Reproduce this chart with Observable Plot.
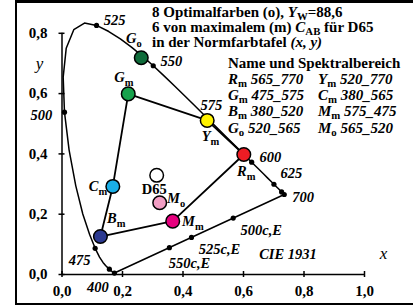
<!DOCTYPE html>
<html><head><meta charset="utf-8">
<script src="https://cdn.jsdelivr.net/npm/d3@7"></script>
<script src="https://cdn.jsdelivr.net/npm/@observablehq/plot@0.6"></script>
<style>
html,body{margin:0;padding:0;background:#fff;overflow:hidden}
#wrap{position:relative;width:413px;height:308px;overflow:hidden;background:#fff}
#frame{position:absolute;left:15px;top:0px;width:420px;height:299.5px;border-left:2px solid #000;border-top:3px solid #000;border-bottom:2.5px solid #000;pointer-events:none}
.txt{position:absolute;font-family:'Liberation Serif',serif;font-weight:bold;font-size:15px;white-space:nowrap;color:#000}
.txt sub{font-size:0.72em;vertical-align:-0.28em;line-height:0;font-style:normal}
.txt i{font-style:italic}
.col{display:inline-block;width:90px}
</style>
</head><body>
<div id="wrap">
  <div id="chart"></div>
  <div id="title" class="txt" style="left:152px;top:5.4px;line-height:15px"></div>
  <div id="legend" class="txt" style="left:228px;top:54.5px;line-height:16.3px"></div>
  <div id="frame"></div>
</div>
<script>
// ---- data ----
const wavelengths = [400,405,410,415,420,425,430,435,440,445,450,455,460,465,470,475,480,485,490,495,500,505,510,515,520,525,530,535,540,545,550,555,560,565,570,575,580,585,590,595,600,605,610,615,620,625,630,635,640,645,650,655,660,665,670,675,680,685,690,695,700];
const locusX = [0.1733,0.1730,0.1726,0.1721,0.1714,0.1703,0.1689,0.1669,0.1644,0.1611,0.1566,0.1510,0.1440,0.1355,0.1241,0.1096,0.0913,0.0687,0.0454,0.0235,0.0082,0.0039,0.0139,0.0389,0.0743,0.1142,0.1547,0.1929,0.2296,0.2658,0.3016,0.3373,0.3731,0.4087,0.4441,0.4788,0.5125,0.5448,0.5752,0.6029,0.6270,0.6482,0.6658,0.6801,0.6915,0.7006,0.7079,0.7140,0.7190,0.7230,0.7260,0.7283,0.7300,0.7311,0.7320,0.7327,0.7334,0.7340,0.7344,0.7346,0.7347];
const locusY = [0.0048,0.0048,0.0048,0.0048,0.0051,0.0058,0.0069,0.0086,0.0109,0.0138,0.0177,0.0227,0.0297,0.0399,0.0578,0.0868,0.1327,0.2007,0.2950,0.4127,0.5384,0.6548,0.7502,0.8120,0.8338,0.8262,0.8059,0.7816,0.7543,0.7243,0.6923,0.6589,0.6245,0.5896,0.5547,0.5202,0.4866,0.4544,0.4242,0.3965,0.3725,0.3514,0.3340,0.3197,0.3083,0.2993,0.2920,0.2859,0.2809,0.2770,0.2740,0.2717,0.2700,0.2689,0.2680,0.2673,0.2666,0.2660,0.2656,0.2654,0.2653];
const markedWavelengths = [400,450,475,500,525,550,575,600,625,650,700];
const labeledWavelengths = [400,475,500,525,550,575,600,625,700];
const complementNames = ["500c,E","525c,E","550c,E"];
const complementX = [0.566,0.428,0.355];
const complementY = [0.187,0.123,0.089];
const pointNames = ["Go","Gm","Ym","Rm","Cm","Bm","Mm","Mo","D65"];
const pointX = [0.262,0.219,0.480,0.601,0.168,0.127,0.366,0.323,0.313];
const pointY = [0.719,0.599,0.511,0.398,0.292,0.126,0.177,0.238,0.329];
const hexagonOrder = ["Ym","Gm","Cm","Bm","Mm","Rm","Ym"];
const xTicks = [0,0.2,0.4,0.6,0.8,1.0];
const yTicks = [0,0.2,0.4,0.6,0.8];
const legendNames = ["Rm","Ym","Gm","Cm","Bm","Mm","Go","Mo"];
const legendRanges = ["565_770","520_770","475_575","380_565","380_520","575_475","520_565","565_520"];
const titleLines = ["8 Optimalfarben (o), <i>Y</i><sub>W</sub>=88,6","6 von maximalem (m) <i>C</i><sub>AB</sub> für D65","in der Normfarbtafel <i>(x, y)</i>"];
const legendHeader = "Name und Spektralbereich";

// ---- styles ----
const pointColors = {Go:"#0f6b3a",Gm:"#17a24c",Ym:"#fff200",Rm:"#ee1c24",Cm:"#1aaee6",Bm:"#2b3990",Mm:"#e6007e",Mo:"#f29ec4",D65:"#ffffff"};
// label placement relative to the point: [dx, dy, anchor]
const pointPlace = {Go:[-7.4,-19,"middle"],Gm:[-4.4,-16.3,"middle"],Ym:[3.3,16.3,"middle"],Rm:[2.5,16.5,"middle"],Cm:[-5.6,0,"end"],Bm:[6.7,-18.3,"start"],Mm:[9.4,0.3,"start"],Mo:[7.4,-4,"start"],D65:[-2.5,14.3,"middle"]};
const wlPlace = {400:[-5.6,14.6,"end"],475:[-4.7,11.7,"end"],500:[-12.3,3,"end"],525:[7.3,-4.9,"start"],550:[7.3,-4.6,"start"],575:[-6.3,-12.5,"start"],600:[7.8,-4.5,"start"],625:[6.6,-11,"start"],700:[7.9,2.7,"start"]};
const compPlace = {"500c,E":[7.3,12.4,"start"],"525c,E":[7.3,12.1,"start"],"550c,E":[-0.6,15.6,"start"]};

// ---- build tables ----
const locus = wavelengths.map((w,i)=>({w,x:locusX[i],y:locusY[i]}));
const locusClosed = locus.concat([locus[0]]);
const byW = Object.fromEntries(locus.map(d=>[d.w,d]));
const points = pointNames.map((n,i)=>({name:n,x:pointX[i],y:pointY[i],color:pointColors[n]}));
const byName = Object.fromEntries(points.map(d=>[d.name,d]));
const hexagon = hexagonOrder.map(n=>byName[n]);
const complements = complementNames.map((n,i)=>({name:n,x:complementX[i],y:complementY[i]}));
const fmt = d=>d.toFixed(1).replace(".",",");
const subLabel = n => n==="D65" ? n : n[0]+"|"+n.slice(1);

const marks = [
  Plot.ruleY([0],{strokeWidth:1.5}),
  Plot.ruleX([0],{strokeWidth:1.5}),
  Plot.axisX({ticks:xTicks,tickSize:6,dy:-3,text:null,label:null,strokeWidth:1.5}),
  Plot.axisY({ticks:yTicks,tickSize:6,dx:3,text:null,label:null,strokeWidth:1.5}),
  Plot.axisX({ticks:xTicks,tickSize:0,tickPadding:11,tickFormat:fmt,fontSize:15,label:null}),
  Plot.axisY({ticks:yTicks,tickSize:0,tickPadding:14.5,tickFormat:fmt,fontSize:15,label:null}),
  Plot.line(locusClosed,{x:"x",y:"y",stroke:"#000",strokeWidth:1.5}),
  Plot.line(hexagon,{x:"x",y:"y",stroke:"#000",strokeWidth:1.8}),
  Plot.dot(markedWavelengths.map(w=>byW[w]),{x:"x",y:"y",r:2.6,fill:"#000"}),
  Plot.dot(complements,{x:"x",y:"y",r:2.6,fill:"#000"}),
  Plot.dot(points,{x:"x",y:"y",r:6.8,fill:"color",stroke:"#000",strokeWidth:1.5})
];
for (const p of points) {
  const [dx,dy,a] = pointPlace[p.name];
  marks.push(Plot.text([p],{x:"x",y:"y",text:d=>subLabel(d.name),dx,dy,textAnchor:a,fontSize:14.5,fontStyle:p.name==="D65"?"normal":"italic"}));
}
for (const w of labeledWavelengths) {
  const [dx,dy,a] = wlPlace[w];
  marks.push(Plot.text([byW[w]],{x:"x",y:"y",text:d=>String(d.w),dx,dy,textAnchor:a,fontSize:14.5,fontStyle:"italic"}));
}
for (const c of complements) {
  const [dx,dy,a] = compPlace[c.name];
  marks.push(Plot.text([c],{x:"x",y:"y",text:"name",dx,dy,textAnchor:a,fontSize:14.5,fontStyle:"italic"}));
}
marks.push(Plot.text(["CIE 1931"],{frameAnchor:"bottom-right",dx:-76.5,dy:-16,textAnchor:"middle",fontSize:14.5,fontStyle:"italic"}));
marks.push(Plot.text(["x"],{frameAnchor:"bottom-right",dx:19,dy:-16,textAnchor:"middle",fontSize:17,fontStyle:"italic",fontWeight:"normal"}));
marks.push(Plot.text(["y"],{frameAnchor:"top-left",dx:-22.5,dy:24,textAnchor:"middle",fontSize:17,fontStyle:"italic",fontWeight:"normal"}));

const chart = Plot.plot({
  width:413,height:308,
  marginLeft:61.5,marginRight:49,marginTop:32.8,marginBottom:34,
  x:{domain:[0,1],axis:null},
  y:{domain:[0,0.8],axis:null},
  color:{type:"identity"},
  style:"font-family:'Liberation Serif',serif;font-weight:bold;font-size:15px;background:transparent;overflow:visible",
  marks
});
// subscripts in point labels
chart.querySelectorAll("text").forEach(t=>{
  const s = t.textContent;
  if (s.includes("|")) {
    const [a,b] = s.split("|");
    t.textContent = "";
    const ns = "http://www.w3.org/2000/svg";
    const t1 = document.createElementNS(ns,"tspan"); t1.textContent = a; t.appendChild(t1);
    const t2 = document.createElementNS(ns,"tspan"); t2.textContent = b;
    t2.setAttribute("font-style","normal"); t2.setAttribute("font-size","10.5"); t2.setAttribute("dy","4");
    t.appendChild(t2);
  }
});
document.getElementById("chart").appendChild(chart);

// text blocks
document.getElementById("title").innerHTML = titleLines.join("<br>");
const sub = n => `<i>${n[0]}</i><sub>${n.slice(1)}</sub>`;
let lg = legendHeader;
for (let i=0;i<legendNames.length;i+=2) {
  lg += `<br><span class="col">${sub(legendNames[i])} <i>${legendRanges[i]}</i></span><span>${sub(legendNames[i+1])} <i>${legendRanges[i+1]}</i></span>`;
}
document.getElementById("legend").innerHTML = lg;
</script>
</body></html>
